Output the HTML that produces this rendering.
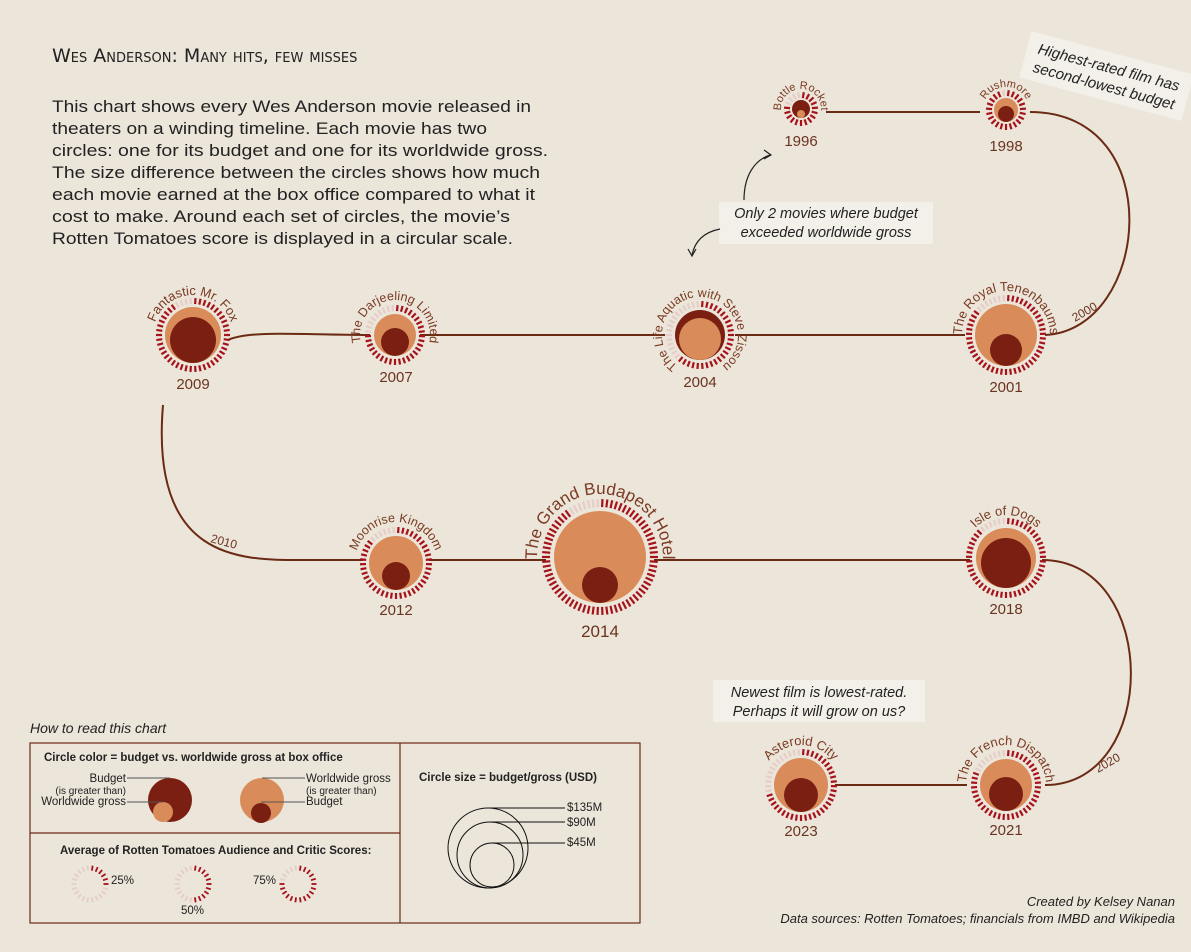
<!DOCTYPE html>
<html><head><meta charset="utf-8"><style>
html,body{margin:0;padding:0;background:#ece5da;}
svg{display:block;font-family:"Liberation Sans",sans-serif;}
.yr{font-size:15px;fill:#6b3420;text-anchor:middle}
.lab{font-size:12px;fill:#6b3420}
</style></head><body>
<svg id="s" width="1191" height="952" viewBox="0 0 1191 952" xmlns="http://www.w3.org/2000/svg">
<rect width="1191" height="952" fill="#ece5da"/>
<text x="52" y="62" font-size="19" fill="#222" style="font-variant:small-caps" font-family="DejaVu Sans, sans-serif">Wes Anderson: Many hits, few misses</text>
<g font-size="17" fill="#222">
<text x="52" y="112" textLength="479" lengthAdjust="spacingAndGlyphs">This chart shows every Wes Anderson movie released in</text>
<text x="52" y="134" textLength="435" lengthAdjust="spacingAndGlyphs">theaters on a winding timeline. Each movie has two</text>
<text x="52" y="156" textLength="496" lengthAdjust="spacingAndGlyphs">circles: one for its budget and one for its worldwide gross.</text>
<text x="52" y="178" textLength="488" lengthAdjust="spacingAndGlyphs">The size difference between the circles shows how much</text>
<text x="52" y="200" textLength="483" lengthAdjust="spacingAndGlyphs">each movie earned at the box office compared to what it</text>
<text x="52" y="222" textLength="458" lengthAdjust="spacingAndGlyphs">cost to make. Around each set of circles, the movie’s</text>
<text x="52" y="244" textLength="461" lengthAdjust="spacingAndGlyphs">Rotten Tomatoes score is displayed in a circular scale.</text>
</g>
<g fill="none" stroke="#6b2a14" stroke-width="2">
<path d="M826 112 H980"/>
<path d="M1030 112 C1170 112 1150 330 1045 335"/>
<path d="M965 335 H735"/>
<path d="M665 335 H420"/>
<path d="M370 335 C300 335 250 330 228 340"/>
<path d="M163 405 C150 560 240 560 300 560 H363"/>
<path d="M429 560 H546"/>
<path d="M654 560 H970"/>
<path d="M1042 560 C1160 560 1160 785 1045 785"/>
<path d="M967 785 H835"/>
</g>
<text class="lab" transform="translate(1075,322) rotate(-30)">2000</text>
<text class="lab" transform="translate(210,542) rotate(15)">2010</text>
<text class="lab" transform="translate(1098,773) rotate(-30)">2020</text>
<g id="movies"></g>
<g id="labels" fill="#7a3a22" text-anchor="middle"></g>
<g class="yr">
<text x="801" y="146">1996</text><text x="1006" y="151">1998</text>
<text x="1006" y="392">2001</text><text x="700" y="387">2004</text>
<text x="396" y="382">2007</text><text x="193" y="389">2009</text>
<text x="396" y="615">2012</text><text x="600" y="637" font-size="17">2014</text>
<text x="1006" y="614">2018</text><text x="1006" y="835">2021</text>
<text x="801" y="836">2023</text>
</g>
<g font-size="14.5" font-style="italic" fill="#222" text-anchor="middle">
<rect x="719" y="202" width="214" height="42" fill="#f3efe9"/>
<text x="826" y="218">Only 2 movies where budget</text>
<text x="826" y="237">exceeded worldwide gross</text>
<rect x="713" y="680" width="212" height="42" fill="#f3efe9"/>
<text x="819" y="697">Newest film is lowest-rated.</text>
<text x="819" y="716">Perhaps it will grow on us?</text>
<g transform="translate(1106,78) rotate(15)">
<rect x="-84" y="-26" width="168" height="48" fill="#f3efe9"/>
<text x="0" y="-6" font-size="15">Highest-rated film has</text>
<text x="0" y="13" font-size="15">second-lowest budget</text>
</g>
</g>
<g fill="none" stroke="#222" stroke-width="1.2">
<path d="M744 200 C744 175 755 160 770 155"/><path d="M764 150 L771 155 L764 159"/>
<path d="M720 229 C705 232 695 240 692 255"/><path d="M688 249 L692 256 L696 249"/>
</g>
<text x="30" y="733" font-size="14" font-style="italic" fill="#222">How to read this chart</text>
<g fill="none" stroke="#6b2a14" stroke-width="1.2">
<rect x="30" y="743" width="610" height="180"/>
<line x1="400" y1="743" x2="400" y2="923"/>
<line x1="30" y1="833" x2="400" y2="833"/>
</g>
<g font-size="11.5" fill="#222">
<text x="44" y="761" font-weight="bold">Circle color = budget vs. worldwide gross at box office</text>
<text x="126" y="782" text-anchor="end">Budget</text>
<text x="126" y="794" text-anchor="end" font-size="10">(is greater than)</text>
<text x="126" y="805" text-anchor="end">Worldwide gross</text>
<text x="306" y="782">Worldwide gross</text>
<text x="306" y="794" font-size="10">(is greater than)</text>
<text x="306" y="805">Budget</text>
<text x="419" y="781" font-weight="bold">Circle size = budget/gross (USD)</text>
<text x="60" y="854" font-weight="bold">Average of Rotten Tomatoes Audience and Critic Scores:</text>
<text x="111" y="884">25%</text><text x="181" y="914">50%</text><text x="253" y="884">75%</text>
<text x="567" y="811">$135M</text><text x="567" y="826">$90M</text><text x="567" y="846">$45M</text>
</g>
<circle cx="170" cy="800" r="22" fill="#7a1f12"/>
<circle cx="163" cy="812" r="10" fill="#d98c5a"/>
<circle cx="262" cy="800" r="22" fill="#d98c5a"/>
<circle cx="261" cy="813" r="10" fill="#7a1f12"/>
<g stroke="#555" stroke-width="1"><path d="M127 778 H170 M127 802 H163 M262 778 H305 M261 802 H305"/></g>
<g fill="none" stroke="#111" stroke-width="1">
<circle cx="488" cy="848" r="40"/><circle cx="490" cy="855" r="33"/><circle cx="492" cy="865" r="22"/>
<path d="M488 808 H565 M490 822 H565 M492 843 H565"/>
</g>
<text x="1175" y="906" font-size="13" font-style="italic" fill="#222" text-anchor="end">Created by Kelsey Nanan</text>
<text x="1175" y="923" font-size="13" font-style="italic" fill="#222" text-anchor="end">Data sources: Rotten Tomatoes; financials from IMBD and Wikipedia</text>
<g id="leg"></g>
</svg>
<script>
var NS="http://www.w3.org/2000/svg";
function el(p,t,a){var e=document.createElementNS(NS,t);for(var k in a)e.setAttribute(k,a[k]);p.appendChild(e);return e;}
function ring(p,cx,cy,r,score,len,w){var n=Math.round(2*Math.PI*r/4.6);for(var i=0;i<n;i++){var a=(i+0.5)/n*2*Math.PI-Math.PI/2;var c=Math.cos(a),s=Math.sin(a);
el(p,"line",{x1:cx+c*(r-len/2),y1:cy+s*(r-len/2),x2:cx+c*(r+len/2),y2:cy+s*(r+len/2),stroke:(i/n<score?"#a5121a":"#e5cdc8"),"stroke-width":w});}}
var D="#7a1f12",L="#d98c5a";
var M=[[801,109,9,D,4,L,14,0.78,"Bottle Rocket",20,11],[1006,110,12,L,8,D,17,0.92,"Rushmore",23,11],[1006,335,31,L,16,D,37,0.85,"The Royal Tenenbaums",44,13],[700,335,25,D,21,L,31,0.6,"The Life Aquatic with Steve Zissou",38,12.5],
[395,335,21,L,14,D,27,0.75,"The Darjeeling Limited",35,12.5],[193,335,28,L,23,D,34,0.9,"Fantastic Mr. Fox",40,13],[396,563,27,L,14,D,33,0.85,"Moonrise Kingdom",41,12.5],[600,557,46,L,18,D,54,0.9,"The Grand Budapest Hotel",63,17],
[1006,558,30,L,25,D,37,0.88,"Isle of Dogs",43,13],[1006,785,26,L,17,D,32,0.8,"The French Dispatch",40,13],[801,785,27,L,17,D,33,0.7,"Asteroid City",40,13]];
var g=document.getElementById("movies"),lb=document.getElementById("labels"),defs=el(document.getElementById("s"),"defs",{});
M.forEach(function(m,i){el(g,"circle",{cx:m[0],cy:m[1],r:m[2],fill:m[3]});
el(g,"circle",{cx:m[0],cy:m[1]+m[2]-m[4],r:m[4],fill:m[5]});
ring(g,m[0],m[1],m[6],m[7],m[6]>45?8:6,2.2);
var R=m[9],cx=m[0],cy=m[1];
el(defs,"path",{id:"p"+i,d:"M"+cx+" "+(cy+R)+" A"+R+" "+R+" 0 1 1 "+cx+" "+(cy-R)+" A"+R+" "+R+" 0 1 1 "+cx+" "+(cy+R)});
var t=el(lb,"text",{"font-size":m[10]});var tp=el(t,"textPath",{href:"#p"+i,startOffset:"50%"});tp.textContent=m[8];});
var lg=document.getElementById("leg");
ring(lg,90,884,16,0.25,5,1.8);ring(lg,193,884,16,0.5,5,1.8);ring(lg,298,884,16,0.75,5,1.8);
</script>
</body></html>
